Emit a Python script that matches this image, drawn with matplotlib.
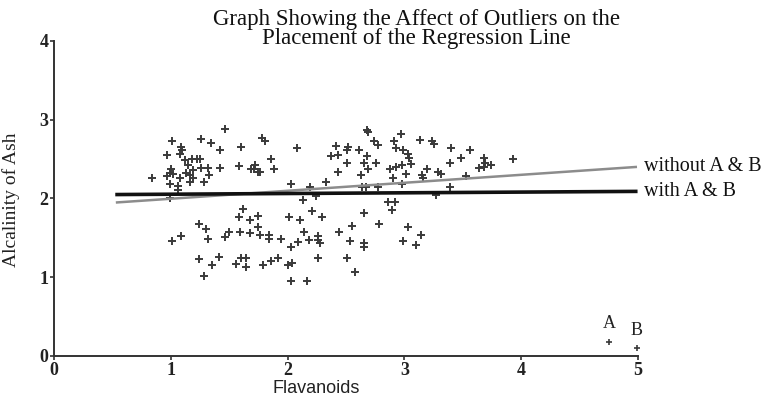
import matplotlib
matplotlib.use("Agg")
import matplotlib.pyplot as plt

# flavanoids / alcalinity of ash
flavanoids = [
    1.46, 1.01, 1.26, 1.34, 1.09, 1.10, 1.42, 1.60, 0.97, 1.08, 1.12, 1.18, 1.22, 1.25,
    1.15, 1.00, 1.26, 1.32, 1.42, 1.58, 1.71, 1.19, 0.99, 1.02, 1.13, 1.16, 1.33, 0.84,
    0.97, 1.08, 1.19, 0.99, 1.06, 1.16, 1.28, 1.75, 1.06, 0.99,
    2.68, 2.69, 1.78, 1.81, 2.08, 2.41, 2.52, 2.51, 2.61, 2.74, 2.77, 2.37, 2.43, 2.68,
    1.86, 2.51, 2.65, 2.76, 1.72, 1.69, 1.88, 1.76, 2.69, 2.43, 2.63, 2.03, 2.19, 2.33,
    2.64, 2.67, 2.77, 2.24, 2.13,
    2.97, 3.13, 3.24, 3.25, 2.91, 2.93, 2.99, 3.40, 3.56, 3.03, 3.04, 3.48, 3.68, 3.69,
    3.64, 3.68, 3.74, 3.93, 3.39, 3.06, 2.98, 2.93, 2.88, 3.19, 3.01, 3.29, 3.31, 3.15,
    3.16, 2.90, 3.53, 2.98, 3.39, 3.27, 2.86, 2.92,
    1.62, 1.58, 1.68, 1.75, 1.24, 1.30, 1.75, 1.50, 1.46, 1.59, 1.68, 1.09, 1.01, 1.32,
    1.24, 1.41, 1.35, 1.60, 1.64, 1.56, 1.64, 1.28,
    2.21, 2.29, 2.11, 2.01, 1.76, 1.84, 1.84, 1.94, 2.14, 2.18, 2.09, 2.03, 2.26, 2.26,
    2.28, 2.65, 2.55, 2.44, 2.53, 2.65, 2.65, 2.78, 2.26, 2.51, 1.79, 1.86, 1.92, 2.00,
    2.04, 2.58, 2.03, 2.17,
    2.89, 3.03, 3.14, 2.99, 3.10,
]
alcalinity = [
    2.88, 2.73, 2.75, 2.70, 2.66, 2.61, 2.62, 2.65, 2.55, 2.56, 2.49, 2.50, 2.50, 2.50,
    2.43, 2.37, 2.39, 2.39, 2.39, 2.41, 2.38, 2.36, 2.32, 2.31, 2.32, 2.30, 2.30, 2.26,
    2.28, 2.26, 2.26, 2.19, 2.16, 2.21, 2.21, 2.34, 2.11, 2.01,
    2.87, 2.85, 2.77, 2.73, 2.64, 2.67, 2.66, 2.61, 2.62, 2.73, 2.68, 2.54, 2.55, 2.54,
    2.50, 2.45, 2.45, 2.45, 2.42, 2.38, 2.38, 2.33, 2.38, 2.33, 2.30, 2.18, 2.15, 2.21,
    2.14, 2.14, 2.15, 2.03, 1.98,
    2.82, 2.74, 2.73, 2.69, 2.73, 2.64, 2.62, 2.64, 2.61, 2.57, 2.52, 2.51, 2.51, 2.45,
    2.39, 2.40, 2.42, 2.50, 2.45, 2.44, 2.42, 2.40, 2.38, 2.38, 2.31, 2.33, 2.31, 2.30,
    2.26, 2.26, 2.28, 2.18, 2.14, 2.04, 1.95, 1.95,
    1.87, 1.77, 1.73, 1.78, 1.67, 1.61, 1.64, 1.58, 1.51, 1.57, 1.56, 1.52, 1.46, 1.48,
    1.23, 1.26, 1.15, 1.25, 1.25, 1.17, 1.13, 1.01,
    1.84, 1.76, 1.73, 1.76, 1.53, 1.53, 1.49, 1.49, 1.57, 1.47, 1.45, 1.38, 1.52, 1.47,
    1.43, 1.82, 1.65, 1.57, 1.46, 1.43, 1.38, 1.67, 1.25, 1.24, 1.16, 1.20, 1.24, 1.16,
    1.18, 1.07, 0.95, 0.95,
    1.85, 1.64, 1.54, 1.46, 1.41,
]

# the two outliers
outlier_names = ["A", "B"]
outlier_x = [4.75, 4.99]
outlier_y = [0.18, 0.10]

# regression lines (end points)
line_x = [0.54, 4.98]
with_ab = [2.05, 2.09]
without_ab = [1.95, 2.40]

title_lines = ["Graph Showing the Affect of Outliers on the",
               "Placement of the Regression Line"]

serif = "Liberation Serif"

fig = plt.figure(figsize=(7.66, 3.99), dpi=100)
ax = fig.add_axes([0.0705, 0.1078, 0.7625, 0.7895])

ax.plot(flavanoids, alcalinity, linestyle="none", marker="+", markersize=6,
        markeredgewidth=1.4, color="#3a3a3a")
ax.plot(outlier_x, outlier_y, linestyle="none", marker="+", markersize=4.5,
        markeredgewidth=1.2, color="#3a3a3a", clip_on=False)
for name, x, y in zip(outlier_names, outlier_x, outlier_y):
    ax.text(x, y + 0.12, name, ha="center", va="bottom", fontsize=13,
            family=serif, color="#222222")

ax.plot(line_x, without_ab, color="#8c8c8c", linewidth=1.8, clip_on=False)
ax.plot(line_x, with_ab, color="#111111", linewidth=2.6, clip_on=False)
ax.text(5.05, without_ab[-1], "without A & B", ha="left", va="center",
        fontsize=14.5, family=serif, color="#111111", clip_on=False)
ax.text(5.05, with_ab[-1], "with A & B", ha="left", va="center",
        fontsize=14.5, family=serif, color="#111111", clip_on=False)

ax.set_xlim(0, 5)
ax.set_ylim(0, 4)
ax.set_xticks(range(6))
ax.set_yticks(range(5))
for side in ["top", "right"]:
    ax.spines[side].set_visible(False)
for side in ["left", "bottom"]:
    ax.spines[side].set_linewidth(1.4)
    ax.spines[side].set_color("#333333")
ax.tick_params(direction="out", length=3, width=1.2, colors="#333333", pad=1)
for lab in ax.get_xticklabels() + ax.get_yticklabels():
    lab.set_fontfamily(serif)
    lab.set_fontsize(13)
    lab.set_fontweight("bold")
    lab.set_color("#222222")

ax.set_xlabel("Flavanoids", fontsize=13, family="Liberation Sans", color="#222222")
ax.xaxis.set_label_coords(0.449, -0.075)
ax.set_ylabel("Alcalinity of Ash", fontsize=14, family=serif, color="#222222")
ax.yaxis.set_label_coords(-0.058, 0.495)

for line, ypos in zip(title_lines, [0.952, 0.903]):
    fig.text(0.544, ypos, line, ha="center", va="center", fontsize=16.5,
             family=serif, color="#111111")

fig.savefig("out.png", dpi=100)
